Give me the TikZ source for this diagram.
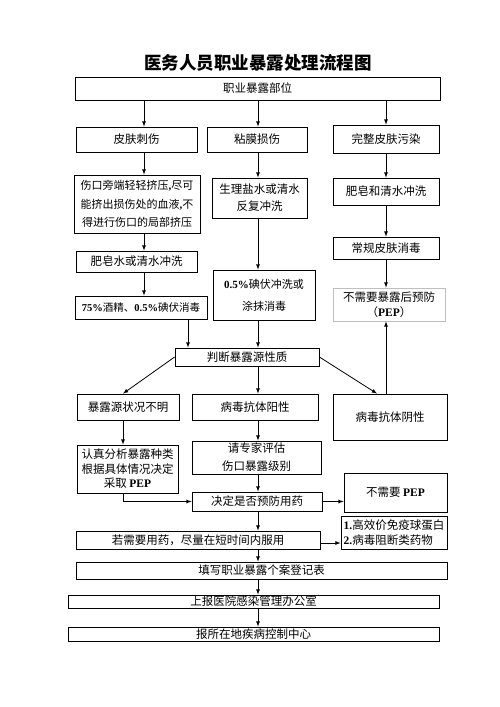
\documentclass[tikz,border=0pt]{standalone}
\usepackage{fontspec}
\setmainfont{Noto Sans CJK SC}
\newfontfamily\tnr{Liberation Serif}
\usepackage{tikz}

\begin{document}
\begin{tikzpicture}[x=1pt,y=-1pt,
  box/.style={draw,line width=0.8pt,inner sep=1pt,align=center,font=\fontsize{11.5}{14}\selectfont},
  link/.style={-latex,line width=0.8pt}]

\useasboundingbox (0,0) rectangle (500,707);

\coordinate (c1) at (144,0);
\coordinate (c2) at (258,0);
\coordinate (c3) at (386,0);
\coordinate (c4) at (188,0);
\coordinate (c5) at (123,0);

\node [font=\fontsize{17.5}{20}\selectfont\bfseries] (title) at (258,63) {医务人员职业暴露处理流程图};
\node [box,minimum width=365,minimum height=23] (top) at (257.5,88.5) {职业暴露部位};

\node [box,minimum width=121,minimum height=25] (sk) at (136.5,139.5) {皮肤刺伤};
\node [box,minimum width=100,minimum height=25] (nm) at (257,139.5) {粘膜损伤};
\node [box,minimum width=106,minimum height=28] (wz) at (386,139) {完整皮肤污染};

\node [box,minimum width=126,minimum height=58,font=\fontsize{11}{18.5}\selectfont] (sk2) at (137,204) {伤口旁端轻轻挤压{\tnr\bfseries,}尽可\\能挤出损伤处的血液{\tnr\bfseries,}不\\得进行伤口的局部挤压};
\node [box,minimum width=121,minimum height=21] (sk3) at (136.5,261.5) {肥皂水或清水冲洗};
\node [box,minimum width=132,minimum height=23,font=\fontsize{10.5}{14}\selectfont] (sk4) at (141,307.5) {{\tnr\bfseries 75\%}酒精、{\tnr\bfseries 0.5\%}碘伏消毒};

\node [box,minimum width=95,minimum height=40,font=\fontsize{11.5}{17}\selectfont] (nm2) at (259.5,198) {生理盐水或清水\\反复冲洗};
\node [box,minimum width=102,minimum height=50,font=\fontsize{11}{22}\selectfont] (nm3) at (264,295) {{\tnr\bfseries 0.5\%}碘伏冲洗或\\涂抹消毒};

\node [box,minimum width=106,minimum height=27] (wz2) at (386,191.5) {肥皂和清水冲洗};
\node [box,minimum width=106,minimum height=22] (wz3) at (386,248) {常规皮肤消毒};
\node [box,draw=gray!50,minimum width=112,minimum height=33,font=\fontsize{11.5}{15}\selectfont] (pep) at (389,304.5) {不需要暴露后预防\\（{\tnr\bfseries PEP}）};

\node [box,minimum width=144,minimum height=18] (pd) at (247,357) {判断暴露源性质};
\node [box,minimum width=102,minimum height=26] (bm) at (128,407) {暴露源状况不明};
\node [box,minimum width=126,minimum height=26] (yx) at (255,407) {病毒抗体阳性};
\node [box,minimum width=114,minimum height=46] (yin) at (390,417) {病毒抗体阴性};

\node [box,minimum width=101,minimum height=48,font=\fontsize{11.5}{14.5}\selectfont] (rz) at (127.5,469) {认真分析暴露种类\\根据具体情况决定\\采取 {\tnr\bfseries PEP}};
\node [box,minimum width=129,minimum height=33,font=\fontsize{11.5}{18}\selectfont] (zj) at (256.5,457.5) {请专家评估\\伤口暴露级别};
\node [box,minimum width=130,minimum height=19] (jd) at (257,501.5) {决定是否预防用药};
\node [box,minimum width=103,minimum height=39] (bx) at (395.5,492.5) {不需要 {\tnr\bfseries PEP}};

\node [box,minimum width=244,minimum height=18] (rx) at (198,540) {若需要用药，尽量在短时间内服用};
\node [box,minimum width=106,minimum height=33,align=left,font=\fontsize{11.5}{15}\selectfont] (gx) at (394,532.5) {{\tnr\bfseries 1.}高效价免疫球蛋白\\{\tnr\bfseries 2.}病毒阻断类药物};

\node [box,minimum width=371,minimum height=17] (tx) at (261.5,570.5) {填写职业暴露个案登记表};
\node [box,minimum width=371,minimum height=13,inner sep=0pt] (sb) at (253.5,601.5) {上报医院感染管理办公室};
\node [box,minimum width=371,minimum height=14,inner sep=0pt] (bs) at (253.5,634) {报所在地疾病控制中心};

\draw [link] (c1 |- top.south) -- (c1 |- sk.north);
\draw [link] (c2 |- top.south) -- (c2 |- nm.north);
\draw [link] (c3 |- top.south) -- (c3 |- wz.north);

\draw [link] (c1 |- sk.south) -- (c1 |- sk2.north);
\draw [link] (c1 |- sk2.south) -- (c1 |- sk3.north);
\draw [link] (c1 |- sk3.south) -- (c1 |- sk4.north);
\draw [link] (c4 |- sk4.south) -- (c4 |- pd.north);

\draw [link] (c2 |- nm.south) -- (c2 |- nm2.north);
\draw [link] (c2 |- nm2.south) -- (c2 |- nm3.north);
\draw [link] (c2 |- nm3.south) -- (c2 |- pd.north);

\draw [link] (c3 |- wz.south) -- (c3 |- wz2.north);
\draw [link] (c3 |- wz2.south) -- (c3 |- wz3.north);
\draw [link] (c3 |- wz3.south) -- (c3 |- pep.north);
\draw [link] (c3 |- yin.north) -- (c3 |- pep.south);

\draw [link] (pd.west) -- ([xshift=-5pt]bm.north);
\draw [link] (c2 |- pd.south) -- (c2 |- yx.north);
\draw [link] (pd.east) -- ([xshift=-13pt]yin.north);

\draw [link] (c5 |- bm.south) -- (c5 |- rz.north);
\draw [link] (c2 |- yx.south) -- (c2 |- zj.north);
\draw [link] (c2 |- zj.south) -- (c2 |- jd.north);
\draw [link] (c5 |- rz.south) |- (jd.west);
\draw [link] (jd.east) -- (jd.east -| bx.west);

\draw [link] (c2 |- jd.south) -- (c2 |- rx.north);
\draw [link] ([yshift=-3pt]rx.east) -- ([yshift=-3pt]rx.east -| gx.west);
\draw [link] (c2 |- rx.south) -- (c2 |- tx.north);
\draw [link] (c2 |- tx.south) -- (c2 |- sb.north);
\draw [link] (c2 |- sb.south) -- (c2 |- bs.north);
\end{tikzpicture}
\end{document}
